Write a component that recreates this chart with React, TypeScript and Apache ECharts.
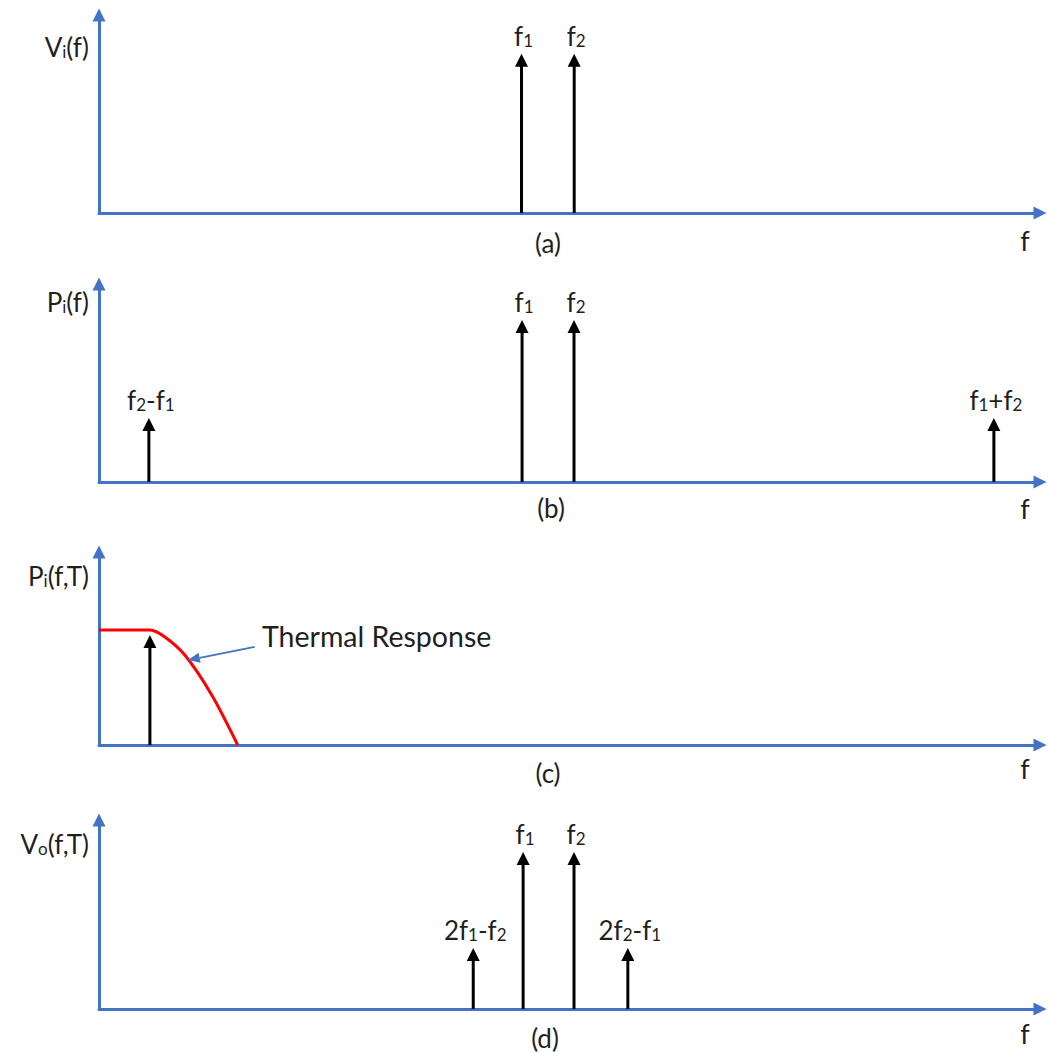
import React, { useEffect, useRef } from "react";
import * as echarts from "echarts";

// ---------- data ----------
const X_MAX = 1000;
const Y_MAX = 100;

// panel (a) V_i(f)
const aFreq = [449, 505];
const aAmp = [80.4, 80.4];
const aLabels = ["f_1", "f_2"];

// panel (b) P_i(f)
const bFreq = [53, 449.6, 504.8, 951];
const bAmp = [32.3, 81.8, 81.8, 32.3];
const bLabels = ["f_2-f_1", "f_1", "f_2", "f_1+f_2"];

// panel (c) P_i(f,T)
const cFreq = [54.1];
const cAmp = [57.0];
const cLabels = [""];
const thermalX = [0, 54.1, 70.0, 91.2, 119.8, 147.4];
const thermalY = [59.6, 59.6, 56.0, 46.6, 25.9, 0];
const pointerFrom = [165.4, 50.8];
const pointerTo = [94.4, 44.0];

// panel (d) V_o(f,T)
const dFreq = [397.7, 450.7, 504.8, 562];
const dAmp = [32.3, 83.1, 83.1, 32.3];
const dLabels = ["2f_1-f_2", "f_1", "f_2", "2f_2-f_1"];

const yTitles = ["V_i(f)", "P_i(f)", "P_i(f,T)", "V_o(f,T)"];
const panelNames = ["(a)", "(b)", "(c)", "(d)"];
const axisName = "f";
const thermalText = "Thermal Response";

// ---------- styles ----------
const FONT = "Lato, 'Open Sans', sans-serif";
const TEXT = "#1f1f1f";
const AXIS = "#4472C4";

const RICH: any = {
  n: { fontSize: 26, fontFamily: FONT, fill: TEXT, color: TEXT, lineHeight: 30, verticalAlign: "bottom" },
  s: { fontSize: 17, fontFamily: FONT, fill: TEXT, color: TEXT, lineHeight: 30, verticalAlign: "bottom" },
};

function toRich(s: string): string {
  let out = "";
  let buf = "";
  for (let i = 0; i < s.length; i++) {
    if (s[i] === "_" && i + 1 < s.length) {
      if (buf) out += `{n|${buf}}`;
      buf = "";
      out += `{s|${s[i + 1]}}`;
      i++;
    } else {
      buf += s[i];
    }
  }
  if (buf) out += `{n|${buf}}`;
  return out;
}

const GRIDS = [
  { left: 99, top: 15, width: 941, height: 198 },
  { left: 99, top: 284, width: 941, height: 198 },
  { left: 99, top: 552, width: 941, height: 193 },
  { left: 99, top: 820, width: 941, height: 189 },
];

const panelData = [
  { f: aFreq, a: aAmp, l: aLabels },
  { f: bFreq, a: bAmp, l: bLabels },
  { f: cFreq, a: cAmp, l: cLabels },
  { f: dFreq, a: dAmp, l: dLabels },
];

function spikeSeries(idx: number) {
  const p = panelData[idx];
  return {
    type: "custom",
    xAxisIndex: idx,
    yAxisIndex: idx,
    data: p.f.map((x, i) => [x, p.a[i]]),
    renderItem: (params: any, api: any) => {
      const x = api.value(0);
      const h = api.value(1);
      const p0 = api.coord([x, 0]);
      const p1 = api.coord([x, h]);
      const aw = 6.5;
      const al = 13;
      const label = p.l[params.dataIndex];
      const children: any[] = [
        {
          type: "line",
          shape: { x1: p0[0], y1: p0[1], x2: p1[0], y2: p1[1] + al - 1 },
          style: { stroke: "#000", lineWidth: 3 },
        },
        {
          type: "polygon",
          shape: { points: [[p1[0], p1[1]], [p1[0] - aw, p1[1] + al], [p1[0] + aw, p1[1] + al]] },
          style: { fill: "#000" },
        },
      ];
      if (label) {
        children.push({
          type: "text",
          x: p1[0] + 2,
          y: p1[1] - 5,
          style: { text: toRich(label), rich: RICH, align: "center", verticalAlign: "bottom" },
        });
      }
      return { type: "group", children };
    },
    z: 5,
  };
}

export default function App() {
  const ref = useRef<HTMLDivElement>(null);
  useEffect(() => {
    if (!ref.current) return;
    const chart = echarts.init(ref.current, null, { renderer: "svg" });

    const axisLine = {
      show: true,
      onZero: false,
      symbol: ["none", "triangle"],
      symbolSize: [13, 13],
      lineStyle: { color: AXIS, width: 3 },
    };
    const xAxes = GRIDS.map((_, i) => ({
      type: "value",
      gridIndex: i,
      min: 0,
      max: X_MAX,
      axisLine,
      axisTick: { show: false },
      axisLabel: { show: false },
      splitLine: { show: false },
    }));
    const yAxes = GRIDS.map((_, i) => ({
      type: "value",
      gridIndex: i,
      min: 0,
      max: Y_MAX,
      axisLine,
      axisTick: { show: false },
      axisLabel: { show: false },
      splitLine: { show: false },
    }));

    const series: any[] = [0, 1, 2, 3].map((i) => spikeSeries(i));
    series.push({
      type: "line",
      xAxisIndex: 2,
      yAxisIndex: 2,
      data: thermalX.map((x, i) => [x, thermalY[i]]),
      smooth: 0.3,
      showSymbol: false,
      lineStyle: { color: "#FF0000", width: 3 },
      z: 4,
    });
    series.push({
      type: "custom",
      xAxisIndex: 2,
      yAxisIndex: 2,
      data: [[pointerFrom[0], pointerFrom[1], pointerTo[0], pointerTo[1]]],
      renderItem: (_p: any, api: any) => {
        const a = api.coord([api.value(0), api.value(1)]);
        const b = api.coord([api.value(2), api.value(3)]);
        const dx = b[0] - a[0];
        const dy = b[1] - a[1];
        const len = Math.sqrt(dx * dx + dy * dy);
        const ux = dx / len;
        const uy = dy / len;
        const al = 12;
        const aw = 5;
        const bx = b[0] - ux * al;
        const by = b[1] - uy * al;
        return {
          type: "group",
          children: [
            { type: "line", shape: { x1: a[0], y1: a[1], x2: bx, y2: by }, style: { stroke: AXIS, lineWidth: 1.8 } },
            {
              type: "polygon",
              shape: { points: [[b[0], b[1]], [bx - uy * aw, by + ux * aw], [bx + uy * aw, by - ux * aw]] },
              style: { fill: AXIS },
            },
          ],
        };
      },
      z: 6,
    });

    const graphic: any[] = [];
    const yTitlePos = [45, 300, 574, 842];
    const namePos = [
      [548, 243],
      [551, 508],
      [548, 773],
      [545, 1038],
    ];
    const fPos = [240, 508, 768, 1033];
    GRIDS.forEach((g, i) => {
      graphic.push({
        type: "text",
        x: 89,
        y: yTitlePos[i],
        style: { text: toRich(yTitles[i]), rich: RICH, align: "right", verticalAlign: "middle" },
      });
      graphic.push({
        type: "text",
        x: namePos[i][0],
        y: namePos[i][1],
        style: { text: panelNames[i], font: `26px ${FONT}`, fill: TEXT, align: "center", verticalAlign: "middle" },
      });
      graphic.push({
        type: "text",
        x: 1025,
        y: fPos[i],
        style: { text: axisName, font: `27px ${FONT}`, fill: TEXT, align: "center", verticalAlign: "middle" },
      });
    });
    graphic.push({
      type: "text",
      x: 262,
      y: 636,
      style: { text: thermalText, font: `28.5px ${FONT}`, fill: TEXT, align: "left", verticalAlign: "middle" },
    });

    chart.setOption({
      animation: false,
      backgroundColor: "#ffffff",
      grid: GRIDS.map((g) => ({ ...g, containLabel: false })),
      xAxis: xAxes,
      yAxis: yAxes,
      series,
      graphic,
    });
    return () => chart.dispose();
  }, []);
  return (
    <div
      ref={ref}
      style={{ position: "absolute", left: 0, top: 0, width: 1049, height: 1053, background: "#fff" }}
    />
  );
}
